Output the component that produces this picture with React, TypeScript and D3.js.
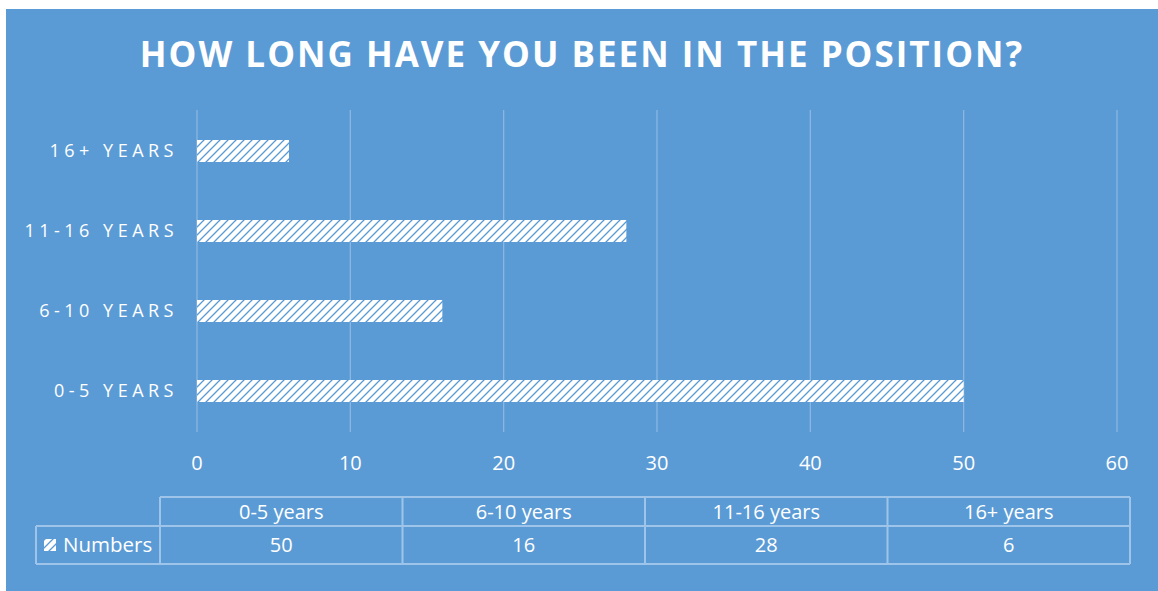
import React from "react";
import * as d3 from "d3";

const categories = ["0-5 years", "6-10 years", "11-16 years", "16+ years"];
const axisLabels = ["0-5 YEARS", "6-10 YEARS", "11-16 YEARS", "16+ YEARS"];
const numbers = [50, 16, 28, 6];
const xTicks = [0, 10, 20, 30, 40, 50, 60];
const seriesName = "Numbers";
const title = "HOW LONG HAVE YOU BEEN IN THE POSITION?";

const W = 1158;
const H = 591;
const BG = "#5B9BD5";
const GRID = "#8DB9E4";
const TABLE_LINE = "#9EC4EA";
const FONT = "'Open Sans', Calibri, sans-serif";

export default function App() {
  const x = d3.scaleLinear().domain([0, 60]).range([197, 1117]);
  const y = d3
    .scaleBand<string>()
    .domain([...categories].reverse())
    .range([111, 431])
    .paddingInner(0.725)
    .paddingOuter(0.3625);

  const colEdges = d3.range(categories.length + 1).map((i) => 160 + i * 242.5);
  const rowTop = 497;
  const rowMid = 526;
  const rowBot = 564;
  const legendLeft = 36;

  return (
    <svg
      width={W}
      height={H}
      style={{ position: "absolute", left: 0, top: 0, display: "block" }}
      fontFamily={FONT}
    >
      <defs>
        <pattern id="wideUp" width={8} height={8} patternUnits="userSpaceOnUse">
          <rect width={8} height={8} fill="#FFFFFF" />
          <path
            d="M-2,2 L2,-2 M0,8 L8,0 M6,10 L10,6"
            stroke={BG}
            strokeWidth={1.3}
          />
        </pattern>
      </defs>
      <rect x={6} y={9} width={W - 6} height={H - 9} fill={BG} />

      <text
        x={582}
        y={67}
        textAnchor="middle"
        fill="#FFFFFF"
        fontSize={35}
        fontWeight={700}
        letterSpacing={2}
      >
        {title}
      </text>

      {/* vertical gridlines */}
      {xTicks.map((t) => (
        <line
          key={`g${t}`}
          x1={x(t)}
          x2={x(t)}
          y1={110}
          y2={432}
          stroke={GRID}
          strokeWidth={1.2}
        />
      ))}

      {/* bars */}
      {categories.map((c, i) => (
        <rect
          key={c}
          x={x(0)}
          y={y(c)}
          width={x(numbers[i]) - x(0)}
          height={y.bandwidth()}
          fill="url(#wideUp)"
        />
      ))}

      {/* category labels */}
      {categories.map((c, i) => (
        <text
          key={`l${c}`}
          x={178}
          y={(y(c) as number) + y.bandwidth() / 2}
          dy="0.36em"
          textAnchor="end"
          fill="#FFFFFF"
          fontSize={18}
          letterSpacing={4.5}
        >
          {axisLabels[i]}
        </text>
      ))}

      {/* x tick labels */}
      {xTicks.map((t) => (
        <text
          key={`t${t}`}
          x={x(t)}
          y={463}
          dy="0.36em"
          textAnchor="middle"
          fill="#FFFFFF"
          fontSize={20}
        >
          {t}
        </text>
      ))}

      {/* data table */}
      <g stroke={TABLE_LINE} strokeWidth={2} fill="none">
        <line x1={colEdges[0]} x2={colEdges[colEdges.length - 1]} y1={rowTop} y2={rowTop} />
        <line x1={legendLeft} x2={colEdges[colEdges.length - 1]} y1={rowMid} y2={rowMid} />
        <line x1={legendLeft} x2={colEdges[colEdges.length - 1]} y1={rowBot} y2={rowBot} />
        <line x1={legendLeft} x2={legendLeft} y1={rowMid} y2={rowBot} />
        {colEdges.map((cx, i) => (
          <line key={`c${i}`} x1={cx} x2={cx} y1={rowTop} y2={rowBot} />
        ))}
      </g>
      {categories.map((c, i) => {
        const cx = (colEdges[i] + colEdges[i + 1]) / 2;
        return (
          <g key={`cell${c}`} fill="#FFFFFF" fontSize={20} textAnchor="middle">
            <text x={cx} y={(rowTop + rowMid) / 2} dy="0.36em">
              {c}
            </text>
            <text x={cx} y={(rowMid + rowBot) / 2} dy="0.36em">
              {numbers[i]}
            </text>
          </g>
        );
      })}
      <rect x={44} y={539} width={12} height={12} fill="url(#wideUp)" />
      <text x={63} y={(rowMid + rowBot) / 2} dy="0.36em" fill="#FFFFFF" fontSize={20.5}>
        {seriesName}
      </text>
    </svg>
  );
}
